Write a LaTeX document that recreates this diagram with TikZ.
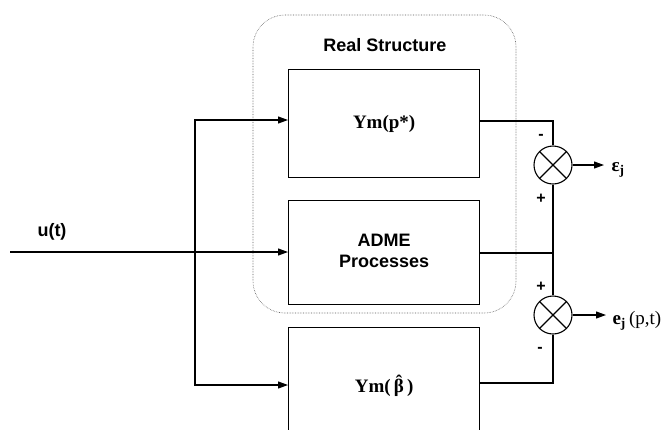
\documentclass[tikz,border=0pt]{standalone}
\usepackage{fontspec}
\setmainfont{Liberation Serif}
\setsansfont{Liberation Sans}
\usetikzlibrary{arrows.meta}
\newcommand{\betahat}{\accent"02C6 β}
\begin{document}
\begin{tikzpicture}[x=1pt,y=-1pt,
  line width=1.1pt,
  sig/.style={-{Triangle[length=10pt,width=7pt]}},
  block/.style={draw,line width=1.3pt,minimum width=191pt,anchor=north west,inner sep=0pt},
  sumnode/.style={draw,circle,line width=1.1pt,minimum size=38pt,inner sep=0pt,
    path picture={\draw[line width=1.1pt] (path picture bounding box.north west) -- (path picture bounding box.south east)
      (path picture bounding box.north east) -- (path picture bounding box.south west);}},
  sanslbl/.style={font=\sffamily\bfseries\fontsize{18}{21}\selectfont,align=center,inner sep=0pt},
  seriflbl/.style={font=\rmfamily\bfseries\fontsize{19}{21}\selectfont,inner sep=0pt},
  signlbl/.style={font=\sffamily\bfseries\fontsize{16}{16}\selectfont,inner sep=0pt}]
\useasboundingbox (0,0) rectangle (661,429);
\clip (0,0) rectangle (661,429);

% dotted enclosure of the real structure
\draw[densely dotted,line width=0.6pt,gray!70!black,rounded corners=32pt] (253,15) rectangle (516,313);
\node[sanslbl] (title) at (385,45) {Real Structure};

% blocks
\node[block,minimum height=108pt] (ym) at (288,69) {};
\node[seriflbl] at (ym.center) {Ym(p*)};
\node[block,minimum height=104pt] (adme) at (288,200) {};
\node[sanslbl] at ([yshift=2pt]adme.center) {ADME\\Processes};
\node[block,minimum height=118pt] (ymhat) at (288,327) {};
\node[seriflbl] at ([yshift=1pt]ymhat.center) {Ym(\,\betahat\,)};

% input and branching
\coordinate (in) at (10,252);
\coordinate (br) at (195,252);
\node[sanslbl] (u) at (52,232) {u(t)};
\draw[sig] (in) -- (adme.west |- in);
\draw[sig] (br) |- (ym.west |- 0,120);
\draw[sig] (br) |- (ymhat.west |- 0,385);

% summing junctions
\node[sumnode] (s1) at (553,165) {};
\node[sumnode] (s2) at (553,315) {};
\draw (ym.east |- 0,121) -| (s1.north);
\draw (adme.east |- 0,253) -| (s1.south);
\draw (adme.east |- 0,253) -| (s2.north);
\draw (ymhat.east |- 0,383) -| (s2.south);

\node[signlbl] at (541,137) {-};
\node[signlbl] at (541,199) {+};
\node[signlbl] at (541,287) {+};
\node[signlbl] at (540,350) {-};

% outputs
\coordinate (o1) at (604,165);
\coordinate (o2) at (606,315);
\draw[sig] (s1.east) -- (o1);
\draw[sig] (s2.east) -- (o2);
\node[seriflbl,anchor=west] (eps) at (611,170) {ε\textsubscript{j}};
\node[seriflbl,anchor=west] (err) at (612,321) {e\textsubscript{j}\,\mdseries(p,t)};
\end{tikzpicture}
\end{document}
